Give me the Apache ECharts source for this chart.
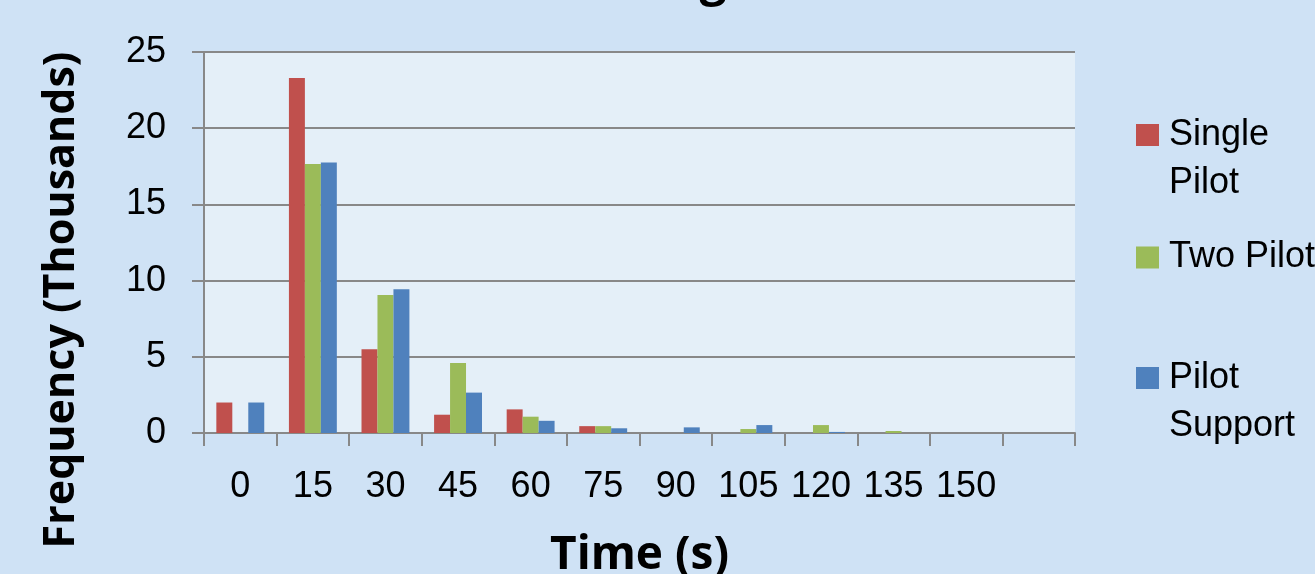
<!DOCTYPE html>
<html>
<head>
<meta charset="utf-8">
<script src="https://cdn.jsdelivr.net/npm/echarts@6/dist/echarts.min.js"></script>
<style>
html,body{margin:0;padding:0;background:#CFE2F5;}
#c{width:1315px;height:574px;}
</style>
</head>
<body>
<div id="c"></div>
<script>
const categories = ['0','15','30','45','60','75','90','105','120','135','150',''];
const singlePilot = [2.0, 23.3, 5.5, 1.2, 1.55, 0.45, 0, 0, 0, 0, 0, 0];
const twoPilot    = [0, 17.65, 9.05, 4.6, 1.07, 0.45, 0, 0.26, 0.52, 0.13, 0, 0];
const pilotSupport= [2.0, 17.75, 9.43, 2.65, 0.8, 0.31, 0.37, 0.52, 0.07, 0, 0, 0];
const yTicks = {min:0, max:25, interval:5};

const sans = "'Liberation Sans',Arial,sans-serif";
const bold = "'Open Sans','Noto Sans',sans-serif";
const grey = '#888888';

const chart = echarts.init(document.getElementById('c'), null, {renderer:'canvas'});
function legendFor(name, top, multi){
  return {
    data:[name], left:1136, top:top, padding:0, orient:'vertical',
    itemWidth:23, itemHeight:22, icon:'rect',
    formatter: multi ? (n)=>' \n' + n.replace(' ','\n') : undefined,
    textStyle:{fontFamily:sans, fontSize:36, color:'#000', lineHeight:48,
      padding:[0,0,0,5]}
  };
}
chart.setOption({
  backgroundColor:'#CFE2F5',
  animation:false,
  color:['#C0504D','#9BBB59','#4F81BD'],
  grid:{left:204, right:240, top:52, bottom:141, show:true, backgroundColor:'#E4EFF8', borderWidth:0,
        containLabel:false, outerBoundsMode:'none'},
  legend:[
    legendFor('Single Pilot', 63, true),
    legendFor('Two Pilot', 233.5, false),
    legendFor('Pilot Support', 306, true)
  ],
  xAxis:{
    type:'category', data:categories,
    name:'Time (s)', nameLocation:'middle', nameGap:100,
    nameTextStyle:{fontFamily:bold, fontWeight:'bold', fontSize:46, color:'#000'},
    axisLine:{lineStyle:{color:grey, width:2}},
    axisTick:{show:true, length:13, lineStyle:{color:grey, width:2}},
    axisLabel:{interval:0, margin:36, fontFamily:sans, fontSize:36, color:'#000'}
  },
  yAxis:{
    type:'value', min:yTicks.min, max:yTicks.max, interval:yTicks.interval,
    axisLine:{show:true, lineStyle:{color:grey, width:2}},
    axisTick:{show:true, length:12, lineStyle:{color:grey, width:2}},
    splitLine:{show:true, lineStyle:{color:grey, width:2}},
    axisLabel:{margin:38, fontFamily:sans, fontSize:36, color:'#000'}
  },
  graphic:[
    {type:'text', x:62, y:300, rotation:Math.PI/2,
     style:{text:'Frequency (Thousands)', fontFamily:bold, fontWeight:'bold', fontSize:43, fill:'#000', align:'center', verticalAlign:'middle'}},
    {type:'text', x:713, y:-19,
     style:{text:'g', fontFamily:bold, fontWeight:'bold', fontSize:48, fill:'#000', align:'center', verticalAlign:'middle'}}
  ],
  series:[
    {name:'Single Pilot', type:'bar', data:singlePilot, barGap:'0%', barCategoryGap:'34%'},
    {name:'Two Pilot', type:'bar', data:twoPilot, barGap:'0%', barCategoryGap:'34%'},
    {name:'Pilot Support', type:'bar', data:pilotSupport, barGap:'0%', barCategoryGap:'34%'}
  ]
});
</script>
</body>
</html>
